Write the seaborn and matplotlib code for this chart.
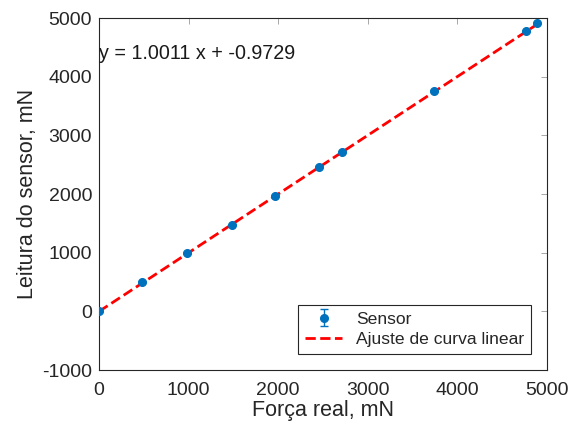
import numpy as np
import pandas as pd
import matplotlib
matplotlib.use("Agg")
import matplotlib.pyplot as plt
import seaborn as sns

# Data
forca_real = [0, 480, 985, 1480, 1965, 2450, 2715, 3740, 4765, 4890]
leitura = [0, 495, 1000, 1480, 1975, 2470, 2725, 3760, 4785, 4910]
erro = [15, 15, 15, 15, 15, 15, 15, 15, 15, 15]
slope = 1.0011
intercept = -0.9729

sns.set_style("white")
plt.rcParams['font.family'] = ['Liberation Sans', 'DejaVu Sans']
plt.rcParams['axes.unicode_minus'] = False

fig = plt.figure(figsize=(5.77, 4.32), dpi=100)
ax = fig.add_axes([0.1716, 0.1435, 0.7764, 0.8145])

eb = ax.errorbar(forca_real, leitura, yerr=erro, fmt='o', color='#0072BD',
                 markersize=5.5, capsize=3, elinewidth=1, label='Sensor', zorder=3)

fit_x = np.array([0, max(forca_real)])
fit_df = pd.DataFrame({'x': fit_x, 'y': slope * fit_x + intercept})
sns.lineplot(data=fit_df, x='x', y='y', ax=ax, color='red', linestyle='--',
             linewidth=2, dashes=(4, 3), label='Ajuste de curva linear', zorder=2)

ax.set_xlim(0, 5000)
ax.set_ylim(-1000, 5000)
ax.set_xticks(range(0, 5001, 1000))
ax.set_yticks(range(-1000, 5001, 1000))

ax.text(0, 4400, 'y = 1.0011 x + -0.9729', fontsize=14.2, ha='left', va='center',
        color='#1a1a1a')

ax.set_xlabel('Força real, mN', fontsize=15.5, color='#262626', labelpad=1)
ax.set_ylabel('Leitura do sensor, mN', fontsize=15.5, color='#262626', labelpad=3)

for s in ax.spines.values():
    s.set_color('#262626')
    s.set_linewidth(0.8)
ax.tick_params(direction='in', length=4, width=0.6, colors='#262626',
               labelsize=14, top=True, right=True, labelcolor='#262626')
ax.tick_params(axis='x', pad=8.5)
ax.tick_params(axis='y', pad=5)
ax.tick_params(which='both', color='#9a9a9a')

handles, labels = ax.get_legend_handles_labels()
order = [labels.index('Sensor'), labels.index('Ajuste de curva linear')]
leg = ax.legend([handles[i] for i in order], [labels[i] for i in order],
                loc='lower right', fontsize=12.6, frameon=True, fancybox=False,
                edgecolor='#262626', framealpha=1, borderaxespad=0.9,
                handlelength=2.1, handletextpad=0.8, labelspacing=0.3,
                borderpad=0.4)
leg.get_frame().set_linewidth(0.8)

fig.savefig('out.png', dpi=100)
